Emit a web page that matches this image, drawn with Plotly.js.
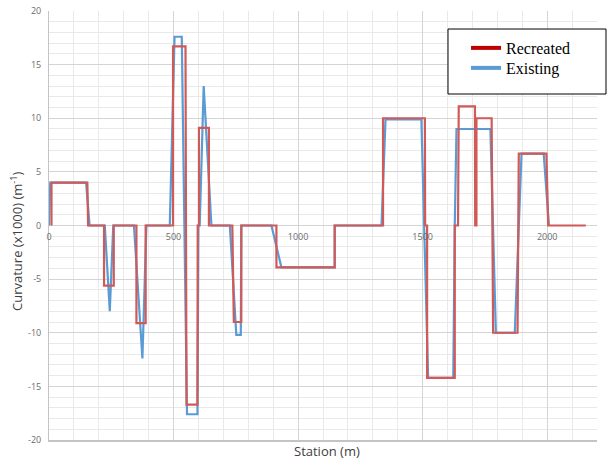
<!DOCTYPE html>
<html>
<head>
<meta charset="utf-8">
<script src="https://cdn.plot.ly/plotly-3.0.1.min.js"></script>
<style>
  html, body { margin: 0; padding: 0; background: #ffffff; }
  #chart { width: 608px; height: 462px; }
</style>
</head>
<body>
<div id="chart"></div>
<script>
// Curvature profile along the alignment: existing vs. recreated geometry
const existingStation = [0, 5, 149, 163, 224, 244, 258, 341, 375, 391, 485, 504, 533, 554, 596, 600, 605, 621, 652,
  726, 752, 770, 772, 893, 933, 1147, 1147, 1335, 1351, 1495, 1522, 1623, 1629, 1636, 1772, 1794, 1870, 1897, 1986, 2007];
const existingCurvature = [0, 4, 4, 0, 0, -8, 0, 0, -12.4, 0, 0, 17.6, 17.6, -17.6, -17.6, 0, 0, 13, 0,
  0, -10.2, -10.2, 0, 0, -3.9, -3.9, 0, 0, 9.9, 9.9, -14.2, -14.2, 0, 9.0, 9.0, -10, -10, 6.7, 6.7, 0];

const recreatedStation = [10, 10, 154, 157, 221, 221, 260, 260, 351, 351, 388, 388, 498, 498, 548, 552, 596, 597, 602, 602,
  642, 642, 736, 742, 772, 772, 913, 913, 1147, 1147, 1341, 1341, 1509, 1510, 1518, 1518, 1629, 1629, 1642, 1645,
  1710, 1711, 1716, 1716, 1777, 1783, 1881, 1886, 1997, 2004, 2155];
const recreatedCurvature = [0, 4, 4, 0, 0, -5.6, -5.6, 0, 0, -9.1, -9.1, 0, 0, 16.7, 16.7, -16.7, -16.7, 0, 0, 9.1,
  9.1, 0, 0, -9.0, -9.0, 0, 0, -3.9, -3.9, 0, 0, 10, 10, 0, 0, -14.2, -14.2, 0, 0, 11.1,
  11.1, 0, 0, 10, 10, -10, -10, 6.7, 6.7, 0, 0];

const stationRange = [0, 2200];
const stationTicks = [0, 500, 1000, 1500, 2000];
const curvatureTicks = [-20, -15, -10, -5, 0, 5, 10, 15, 20];
const seriesNames = ['Recreated', 'Existing'];

const tickFont = { family: 'Open Sans, sans-serif', size: 9, color: '#6b6b6b' };
const titleFont = { family: 'Open Sans, sans-serif', size: 13, color: '#404040' };
const legendFont = { family: 'Liberation Serif, Times New Roman, serif', size: 16, color: '#000000' };

const traces = [
  {
    x: existingStation, y: existingCurvature, mode: 'lines', showlegend: false,
    line: { color: '#5b9bd5', width: 2.2 }, hoverinfo: 'skip'
  },
  // recreated curve sits on the overlay axis (station labels along the zero line), drawn on top
  {
    x: recreatedStation, y: recreatedCurvature, xaxis: 'x2', yaxis: 'y', mode: 'lines', showlegend: false,
    line: { color: '#d05a58', width: 2.2 }, hoverinfo: 'skip'
  },
  // legend keys
  { x: [null], y: [null], mode: 'lines', name: seriesNames[0], legend: 'legend',
    line: { color: '#c00000', width: 4 } },
  { x: [null], y: [null], mode: 'lines', name: seriesNames[1], legend: 'legend2',
    line: { color: '#5b9bd5', width: 4 } }
];

const layout = {
  width: 608, height: 462,
  margin: { l: 49, r: 11, t: 11, b: 22 },
  paper_bgcolor: '#ffffff', plot_bgcolor: '#ffffff',
  showlegend: true,
  xaxis: {
    range: stationRange, tickvals: stationTicks, showticklabels: false,
    showgrid: true, gridcolor: '#d4d4d4', gridwidth: 1,
    minor: { dtick: 100, showgrid: true, gridcolor: '#e9e9e9', gridwidth: 1 },
    zeroline: false, showline: true, linecolor: '#c4c4c4', linewidth: 1.5, ticks: ''
  },
  xaxis2: {
    overlaying: 'x', anchor: 'free', position: 0.5, range: stationRange,
    tickvals: stationTicks, ticktext: stationTicks.map(String),
    showgrid: false, zeroline: false, showline: false, ticks: '',
    tickfont: tickFont, ticklabelstandoff: 4
  },
  yaxis: {
    range: [-20, 20], tickvals: curvatureTicks, ticktext: curvatureTicks.map(String),
    showgrid: true, gridcolor: '#d4d4d4', gridwidth: 1,
    minor: { dtick: 1, showgrid: true, gridcolor: '#e9e9e9', gridwidth: 1 },
    zeroline: false, showline: true, linecolor: '#c4c4c4', linewidth: 1, ticks: '',
    tickfont: tickFont, ticklabelstandoff: 5
  },
  legend: {
    x: 0.761, y: 0.9534, xanchor: 'left', yanchor: 'top',
    bgcolor: 'rgba(0,0,0,0)', borderwidth: 0, font: legendFont
  },
  legend2: {
    x: 0.761, y: 0.9068, xanchor: 'left', yanchor: 'top',
    bgcolor: 'rgba(0,0,0,0)', borderwidth: 0, font: legendFont
  },
  shapes: [
    {
      type: 'rect', xref: 'paper', yref: 'paper', layer: 'above',
      x0: 0.7281, x1: 1.0164, y0: 0.8065, y1: 0.958,
      line: { color: '#000000', width: 1 }, fillcolor: '#ffffff'
    }
  ],
  annotations: [
    {
      text: 'Curvature (x1000) (m<sup>-1</sup>)', textangle: -90, showarrow: false,
      xref: 'paper', yref: 'paper', x: -0.0584, y: 0.4639, xanchor: 'center', yanchor: 'middle',
      font: titleFont
    },
    {
      text: 'Station (m)', showarrow: false,
      xref: 'paper', yref: 'paper', x: 0.5073, y: -0.0256, xanchor: 'center', yanchor: 'middle',
      font: titleFont
    }
  ]
};

Plotly.newPlot('chart', traces, layout, { displayModeBar: false, staticPlot: true });
</script>
</body>
</html>
